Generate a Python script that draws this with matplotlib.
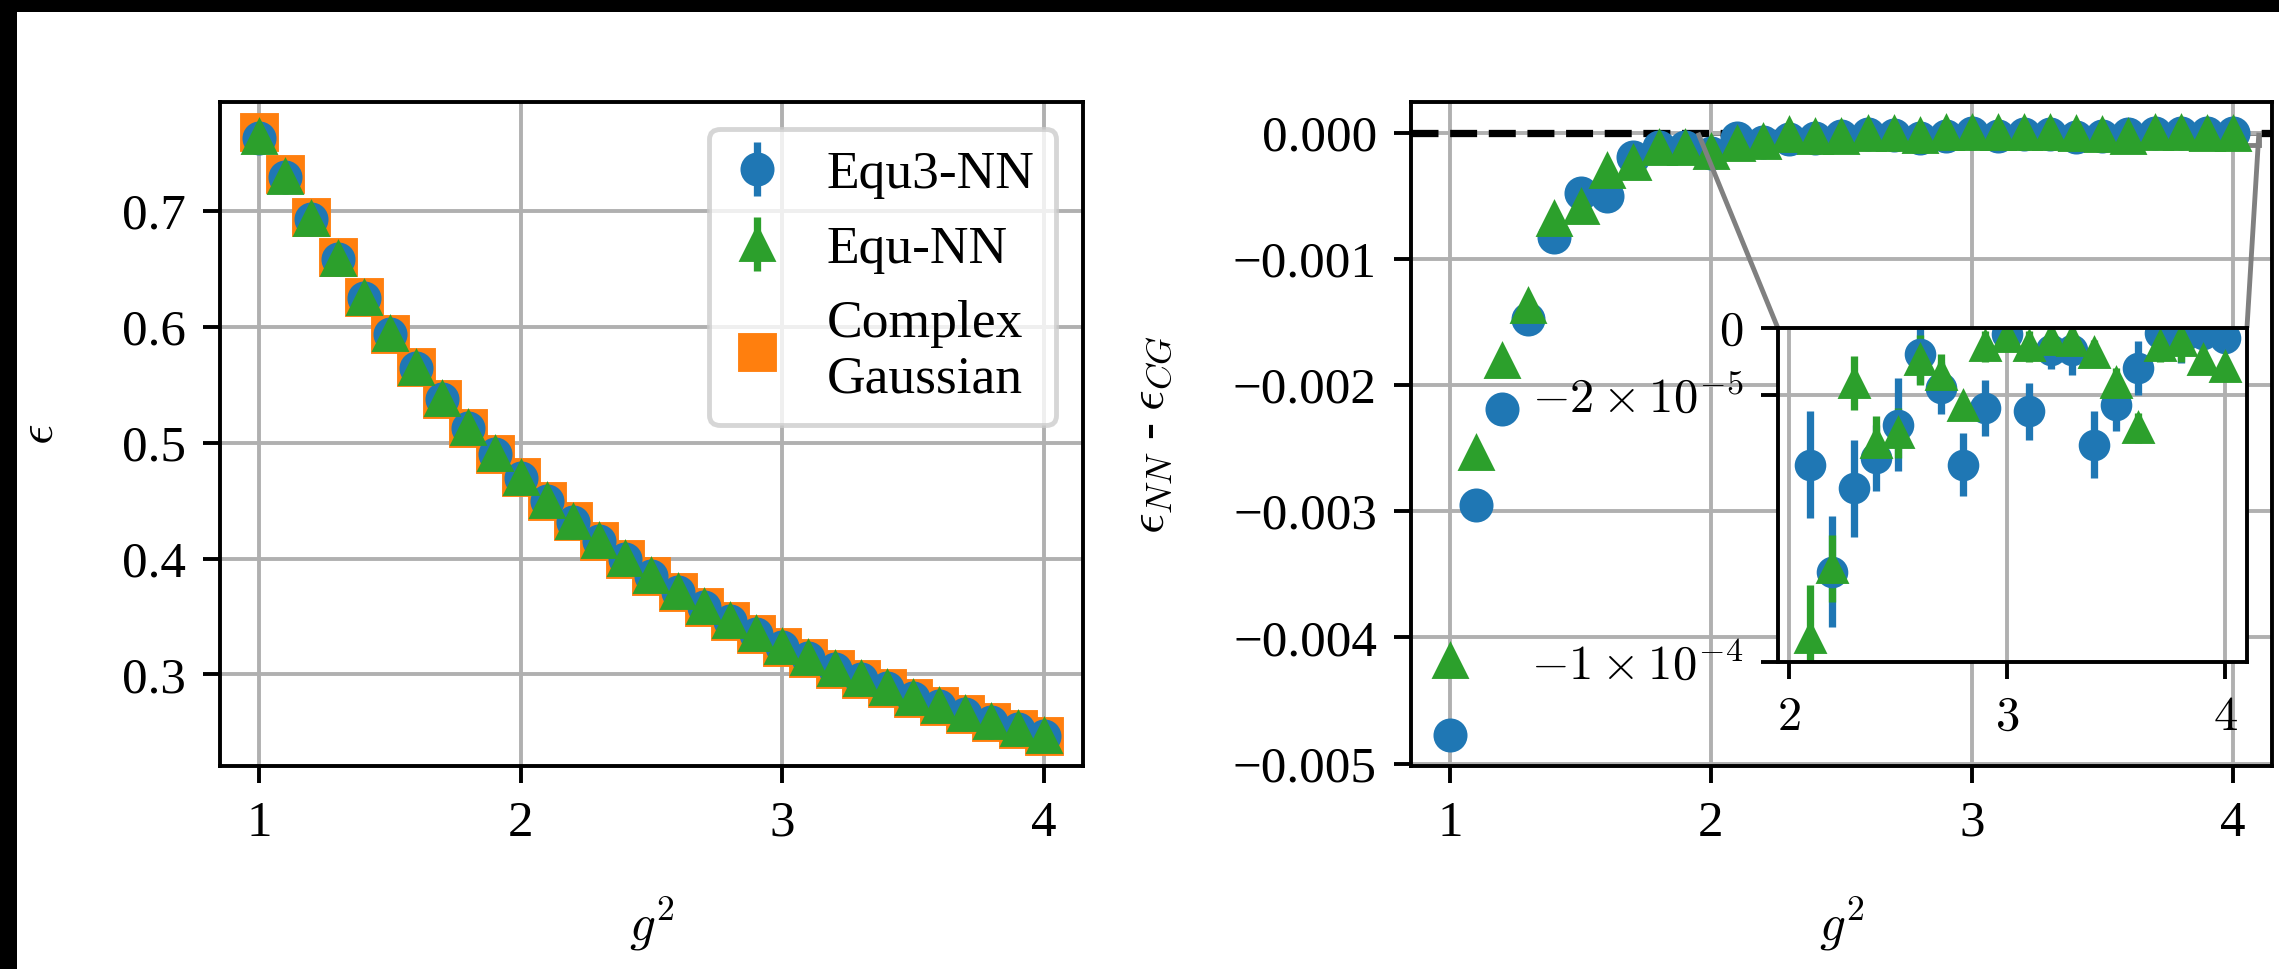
import numpy as np
import matplotlib
matplotlib.use("Agg")
import matplotlib.pyplot as plt
from matplotlib.patches import Rectangle
from mpl_toolkits.axes_grid1.inset_locator import mark_inset

plt.rcParams['font.family'] = 'serif'
plt.rcParams['font.serif'] = ['Liberation Serif', 'DejaVu Serif']
plt.rcParams['mathtext.fontset'] = 'cm'
plt.rcParams['font.size'] = 10.5

# coupling g^2
g2 = [1.0, 1.1, 1.2, 1.3, 1.4, 1.5, 1.6, 1.7, 1.8, 1.9, 2.0,
      2.1, 2.2, 2.3, 2.4, 2.5, 2.6, 2.7, 2.8, 2.9, 3.0,
      3.1, 3.2, 3.3, 3.4, 3.5, 3.6, 3.7, 3.8, 3.9, 4.0]

# complex gaussian energy
eps_cg = [0.768, 0.732, 0.695, 0.660, 0.626, 0.594, 0.565, 0.538, 0.513, 0.490, 0.470,
          0.450, 0.432, 0.415, 0.400, 0.385, 0.371, 0.358, 0.346, 0.335, 0.324,
          0.314, 0.305, 0.296, 0.288, 0.280, 0.273, 0.266, 0.259, 0.253, 0.247]

# eps_NN - eps_CG
diff_equ3 = [-4.77e-3, -2.95e-3, -2.19e-3, -1.48e-3, -8.3e-4, -4.8e-4, -5.0e-4, -1.9e-4, -1.1e-4, -1.1e-4, -1.6e-4,
             -4.1e-5, -7.3e-5, -4.8e-5, -3.9e-5, -2.9e-5, -0.8e-5, -1.8e-5, -4.1e-5, -2.4e-5, -0.2e-5,
             -2.5e-5, -0.66e-5, -0.66e-5, -3.5e-5, -2.3e-5, -1.2e-5, -0.15e-5, -0.35e-5, -0.2e-5, -0.3e-5]
err_equ3 = [1e-5, 1e-5, 1e-5, 1e-5, 1e-5, 1e-5, 1e-5, 1e-5, 1e-5, 1e-5, 1e-5,
            1.6e-5, 1.65e-5, 1.45e-5, 1.0e-5, 1.4e-5, 0.87e-5, 0.78e-5, 0.95e-5, 0.85e-5, 0.5e-5,
            0.85e-5, 0.57e-5, 0.75e-5, 1.0e-5, 0.8e-5, 0.8e-5, 0.5e-5, 0.7e-5, 0.6e-5, 0.4e-5]
diff_equ = [-4.19e-3, -2.54e-3, -1.81e-3, -1.37e-3, -6.8e-4, -5.9e-4, -3.0e-4, -2.4e-4, -1.2e-4, -1.2e-4, -1.5e-4,
            -9.3e-5, -7.2e-5, -1.65e-5, -3.45e-5, -3.15e-5, -0.96e-5, -1.4e-5, -2.35e-5, -0.56e-5, -0.27e-5,
            -0.56e-5, -0.36e-5, -0.41e-5, -0.76e-5, -1.65e-5, -3.0e-5, -0.56e-5, -0.41e-5, -0.96e-5, -1.16e-5]
err_equ = [1e-5, 1e-5, 1e-5, 1e-5, 1e-5, 1e-5, 1e-5, 1e-5, 1e-5, 1e-5, 1e-5,
           1.6e-5, 1.0e-5, 0.8e-5, 0.8e-5, 0.75e-5, 0.75e-5, 0.6e-5, 0.3e-5, 0.45e-5, 0.3e-5,
           0.45e-5, 0.3e-5, 0.3e-5, 0.4e-5, 0.45e-5, 0.45e-5, 0.45e-5, 0.6e-5, 0.3e-5, 0.3e-5]

inset_xticks = [2, 3, 4]
inset_xticklabels = ['$2$', '$3$', '$4$']
inset_yticks = [0, -2e-5, -1e-4]
inset_yticklabels = ['$0$', r'$-2\times10^{-5}$', r'$-1\times10^{-4}$']

x = np.array(g2)
cg = np.array(eps_cg)
d3 = np.array(diff_equ3)
d1 = np.array(diff_equ)

fig = plt.figure(figsize=(2279 / 350, 969 / 350), dpi=350)
fig.patch.set_facecolor('black')
fig.add_artist(Rectangle((17 / 2279, 0), 1 - 17 / 2279, 1 - 12 / 969,
                         transform=fig.transFigure, facecolor='white',
                         edgecolor='none', zorder=-10))

ax1 = fig.add_axes([0.0965, 0.2095, 0.3787, 0.6852])
ax2 = fig.add_axes([0.6191, 0.2095, 0.3778, 0.6852])

# left: energies
h_cg, = ax1.plot(x, cg, 's', color='C1', ms=7, label='Complex\nGaussian')
h3 = ax1.errorbar(x, cg + d3, yerr=err_equ3, fmt='o', color='C0', label='Equ3-NN')
h1 = ax1.errorbar(x, cg + d1, yerr=err_equ, fmt='^', color='C2', label='Equ-NN')
ax1.legend(handles=[h3, h1, h_cg], loc='upper right', fontsize=11, handlelength=1.0)
ax1.grid(True)
ax1.set_xlabel('$g^2$', labelpad=10)
ax1.set_ylabel(r'$\epsilon$', labelpad=12)
ax1.set_xticks([1, 2, 3, 4])

# right: differences
ax2.axhline(0, color='k', ls='--')
ax2.errorbar(x, d3, yerr=err_equ3, fmt='o', color='C0')
ax2.errorbar(x, d1, yerr=err_equ, fmt='^', color='C2')
ax2.grid(True)
ax2.set_xlabel('$g^2$', labelpad=10)
ax2.set_ylabel(r'$\epsilon_{NN}$ - $\epsilon_{CG}$', labelpad=12)
ax2.set_xticks([1, 2, 3, 4])

axins = ax2.inset_axes([0.426, 0.157, 0.545, 0.503])
axins.errorbar(x, d3, yerr=err_equ3, fmt='o', color='C0', ms=5.5)
axins.errorbar(x, d1, yerr=err_equ, fmt='^', color='C2', ms=5.5)
axins.set_xlim(1.95, 4.1)
axins.set_ylim(-1e-4, 0)
axins.set_xticks(inset_xticks)
axins.set_xticklabels(inset_xticklabels)
axins.set_yticks(inset_yticks)
axins.set_yticklabels(inset_yticklabels)
axins.tick_params(labelsize=10)
axins.grid(True)
mark_inset(ax2, axins, loc1=2, loc2=1, fc='none', ec='0.5')

fig.savefig('out.png', dpi=350, facecolor=fig.get_facecolor())
